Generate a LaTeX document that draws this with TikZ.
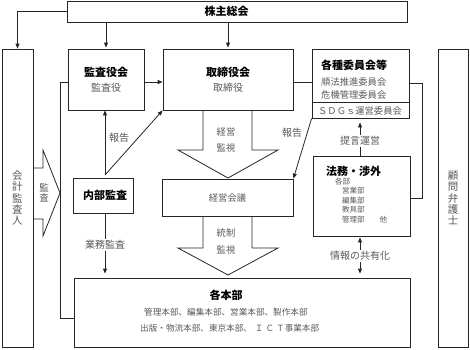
\documentclass[tikz,border=0pt]{standalone}
\usepackage{fontspec}
\setmainfont{Noto Sans CJK JP}
\usetikzlibrary{arrows.meta,calc}
\begin{document}
\begin{tikzpicture}[x=1pt,y=-1pt,
  box/.style={draw=black!85,line width=0.8pt,inner sep=0pt},
  ln/.style={draw=black!85,line width=0.8pt},
  arr/.style={ln,-{Triangle[length=5pt,width=4pt]}},
  darr/.style={ln,{Triangle[length=5pt,width=4pt]}-{Triangle[length=5pt,width=4pt]}},
  blk/.style={ln,line join=miter},
  ttl/.style={inner sep=0pt,font=\fontsize{11}{12}\selectfont\bfseries,text=black},
  sub/.style={inner sep=0pt,font=\fontsize{10}{11}\selectfont,text=black!65},
  sml/.style={inner sep=0pt,font=\fontsize{9.3}{10}\selectfont,text=black!65},
  lst/.style={inner sep=0pt,font=\fontsize{8.6}{9}\selectfont,text=black!65},
  tny/.style={inner sep=0pt,font=\fontsize{7.5}{8}\selectfont,text=black!65},
  lbl/.style={sub,fill=white,inner sep=1pt},
  vt/.style={inner sep=0pt,align=center,text=black!65}
]
\useasboundingbox (0,0) rectangle (470,349);

% boxes
\node[box,minimum width=340pt,minimum height=21pt] (sh) at (237,11.5) {};
\node[box,minimum width=31pt,minimum height=298pt] (kaikei) at (17.5,198) {};
\node[box,minimum width=76pt,minimum height=61pt] (kansa) at (106,79.5) {};
\node[box,minimum width=130pt,minimum height=61pt] (tori) at (228,79.5) {};
\node[box,minimum width=97pt,minimum height=69pt] (iin) at (360.5,83.5) {};
\node[box,minimum width=30pt,minimum height=298pt] (komon) at (453,198) {};
\node[box,minimum width=60pt,minimum height=35pt] (naibu) at (103,195.5) {};
\node[box,minimum width=131pt,minimum height=37pt] (keiei) at (227.5,197.5) {};
\node[box,minimum width=97pt,minimum height=80pt] (houmu) at (361.5,196) {};
\node[box,minimum width=336pt,minimum height=69pt] (hon) at (242,312.5) {};

% helper coordinates
\coordinate (y82) at (0,82);
\coordinate (sep) at (0,102);
\coordinate (r1) at (422,83);
\coordinate (r2) at (422,198);
\coordinate (l1) at (60,82);
\coordinate (l2) at (60,318);
\coordinate (nb) at (105,175);
\coordinate (xh) at (360,0);

% separator in committee box
\draw[ln] (iin.west |- sep) -- (iin.east |- sep);

% connectors
\draw[arr] (sh.west) -| (kaikei.north);
\draw[arr,shorten >=1pt] (sh.south -| kansa.north) -- (kansa.north);
\draw[arr,shorten >=1pt] (sh.south -| tori.north) -- (tori.north);
\draw[arr] (kansa.east |- y82) -- (tori.west |- y82);
\draw[ln] (tori.east |- y82) -- (iin.west |- y82);
\draw[ln] (iin.east |- r1) -- (r1) -- (r2) -- (houmu.east |- r2);
\draw[ln] (kansa.west |- l1) -- (l1) -- (l2) -- (hon.west |- l2);
\draw[arr] (nb) -- (nb |- kansa.south);
\draw[arr] (nb) -- (tori.south west);
\draw[arr,shorten >=4pt] (nb |- naibu.south) -- (nb |- hon.north);
\draw[arr] (iin.south west) -- (keiei.north east);
\draw[arr,shorten >=4pt] (xh |- houmu.north) -- (xh |- iin.south);
\draw[darr,shorten >=4pt,shorten <=1pt] (xh |- houmu.south) -- (xh |- hon.north);

% block arrows
\draw[blk] (203,110) -- (203,150) -- (178,150) -- (228,178) -- (278,150) -- (252,150) -- (252,110);
\draw[blk] (203,216) -- (203,248) -- (178,248) -- (228,275) -- (278,248) -- (252,248) -- (252,216);
\draw[blk] (33,168) -- (43,168) -- (43,150) -- (60,193) -- (43,236) -- (43,219) -- (33,219);

% texts
\node[ttl] (shT) at (226.5,11.5) {株主総会};
\node[vt,font=\fontsize{10.5}{11.3}\selectfont] (kaikeiT) at (17.5,198) {会\\計\\監\\査\\人};
\node[vt,font=\fontsize{10.5}{11.3}\selectfont] (komonT) at (453,198) {顧\\問\\弁\\護\\士};
\node[vt,font=\fontsize{9.5}{10}\selectfont] (kansaV) at (44,193) {監\\査};
\node[ttl] (kansaT) at (106,72) {監査役会};
\node[sub] (kansaS) at (106,88) {監査役};
\node[ttl] (toriT) at (228,72) {取締役会};
\node[sub] (toriS) at (228,88) {取締役};
\node[ttl,anchor=west] (iinT) at (321,65) {各種委員会等};
\node[sml,anchor=west] (iin1) at (321,82) {順法推進委員会};
\node[sml,anchor=west] (iin2) at (321,95) {危機管理委員会};
\node[sml] (iin3) at (360,111) {ＳＤＧｓ運営委員会};
\node[ttl] (naibuT) at (105,195.5) {内部監査};
\node[sml] (keieiT) at (227.5,198) {経営会議};
\node[sml] (b1) at (226,132) {経営};
\node[sml] (b2) at (226,148) {監視};
\node[sml] (b3) at (226,233) {統制};
\node[sml] (b4) at (226,250) {監視};
\node[sub] (hk1) at (119,138) {報告};
\node[sub] (hk2) at (292,133) {報告};
\node[lbl] (gyomu) at (105,245) {業務監査};
\node[lbl] (teigen) at (360,141) {提言運営};
\node[lbl] (joho) at (360,256) {情報の共有化};
\node[ttl,anchor=west] (houmuT) at (326,171) {法務・渉外};
\node[tny,anchor=west] (h1) at (335,181.5) {各部};
\node[tny,anchor=west] (h2) at (342,191) {営業部};
\node[tny,anchor=west] (h3) at (342,200.5) {編集部};
\node[tny,anchor=west] (h4) at (342,210) {教具部};
\node[tny,anchor=west] (h5) at (342,219.5) {管理部　　他};
\node[ttl] (honT) at (226,295) {各本部};
\node[lst,anchor=west] (hon1) at (144,312) {管理本部、編集本部、営業本部、製作本部};
\node[lst,anchor=west] (hon2) at (140,328) {出版・物流本部、東京本部、\hspace{3pt}Ｉ\hspace{2pt}Ｃ\hspace{2pt}Ｔ事業本部};
\end{tikzpicture}
\end{document}
